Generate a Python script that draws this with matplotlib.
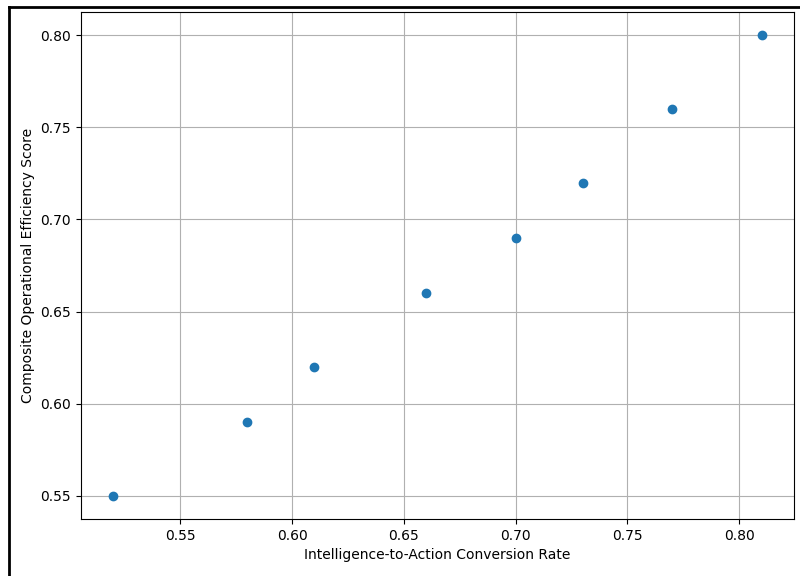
import matplotlib
matplotlib.use('Agg')
import matplotlib.pyplot as plt
from matplotlib.lines import Line2D

# 데이터
conversion_rate = [0.52, 0.58, 0.61, 0.66, 0.70, 0.73, 0.77, 0.81]
efficiency_score = [0.55, 0.59, 0.62, 0.66, 0.69, 0.72, 0.76, 0.80]

fig = plt.figure(figsize=(8, 5.76), dpi=100)
ax = fig.add_axes([0.101, 0.099, 0.8915, 0.88])

ax.scatter(conversion_rate, efficiency_score, color='#1f77b4', s=36, zorder=3)
ax.set_xlabel('Intelligence-to-Action Conversion Rate')
ax.set_ylabel('Composite Operational Efficiency Score')
ax.grid(True)
ax.set_axisbelow(True)

# 바깥 테두리 (잘린 프레임)
fig.add_artist(Line2D([8.5 / 800, 8.5 / 800], [0, 1 - 6.5 / 576],
                      transform=fig.transFigure, color='black', lw=2))
fig.add_artist(Line2D([8.5 / 800, 1], [1 - 6.5 / 576, 1 - 6.5 / 576],
                      transform=fig.transFigure, color='black', lw=2))

plt.savefig('out.png', dpi=100)
